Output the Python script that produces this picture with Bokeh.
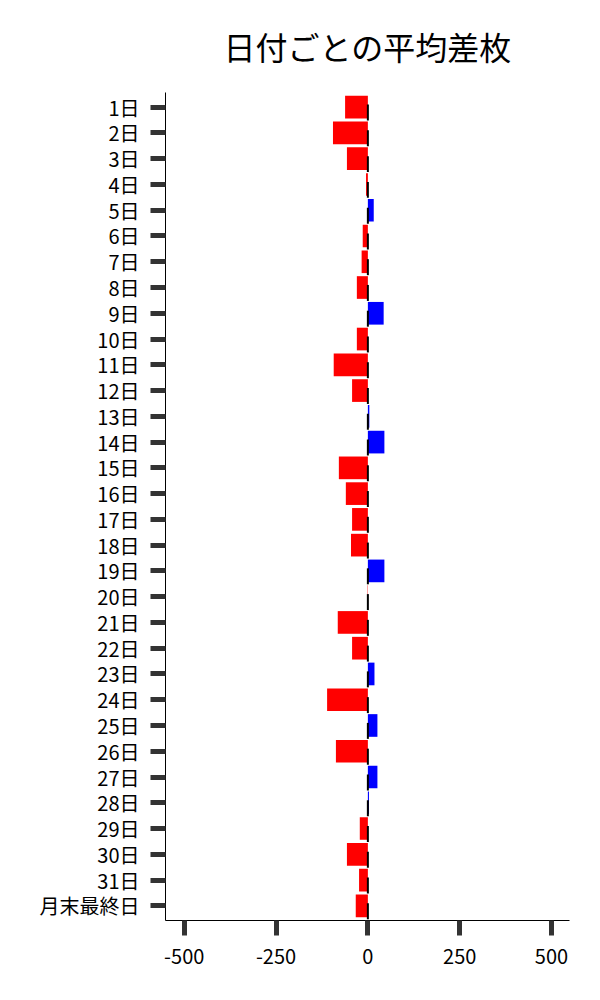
from bokeh.plotting import figure
from bokeh.models import Range1d, FixedTicker, ColumnDataSource
from bokeh.embed import file_html
from bokeh.resources import INLINE

days = [f"{d}日" for d in range(1, 32)] + ["月末最終日"]
avg_diff = [-62, -95, -57, -5, 16, -14, -17, -30, 43, -30, -93, -43, 4, 45, -79, -60,
            -43, -46, 45, -1, -82, -43, 18, -111, 26, -87, 26, 3, -22, -57, -24, -33]
x_ticks = [-500, -250, 0, 250, 500]

FONT = "Noto Sans CJK JP"
idx = list(range(len(days)))
colors = ["#ff0000" if v < 0 else "#0000ff" for v in avg_diff]
src = ColumnDataSource(dict(y=idx, v=avg_diff, zero=[0] * len(days), color=colors,
                            e0=[i - 0.1 for i in idx], e1=[i + 0.52 for i in idx]))

p = figure(width=592, height=988, output_backend="svg", toolbar_location=None,
           x_range=Range1d(-551, 549), y_range=Range1d(len(days) - 1 + 0.57, -0.57),
           min_border_left=165, min_border_right=23, min_border_top=92, min_border_bottom=68)

p.hbar(y="y", left="zero", right="v", height=0.88, color="color", line_color=None, source=src)
p.segment(x0="zero", x1="zero", y0="e0", y1="e1", line_color="black", line_width=2, source=src)

p.title.text = "日付ごとの平均差枚"
p.title.text_font = FONT
p.title.text_font_size = "32px"
p.title.text_font_style = "normal"
p.title.text_color = "black"
p.title.align = "center"
p.title.vertical_align = "top"
p.title.standoff = 44

p.xgrid.visible = False
p.ygrid.visible = False
p.outline_line_color = None

p.xaxis.ticker = FixedTicker(ticks=x_ticks)
p.xaxis.major_label_overrides = {t: str(t) for t in x_ticks}
p.yaxis.ticker = FixedTicker(ticks=idx)
p.yaxis.major_label_overrides = {i: d for i, d in zip(idx, days)}

for ax in (p.xaxis[0], p.yaxis[0]):
    ax.axis_line_color = "black"
    ax.axis_line_width = 1
    ax.major_tick_line_color = "#333333"
    ax.major_tick_line_width = 5
    ax.major_tick_out = 15
    ax.major_tick_in = 0
    ax.minor_tick_line_color = None
    ax.major_label_text_font = FONT
    ax.major_label_text_font_size = "20px"
    ax.major_label_text_color = "black"
p.yaxis.major_label_standoff = 11
p.xaxis.major_label_standoff = 13

open("out.html", "w").write(file_html(p, INLINE))
